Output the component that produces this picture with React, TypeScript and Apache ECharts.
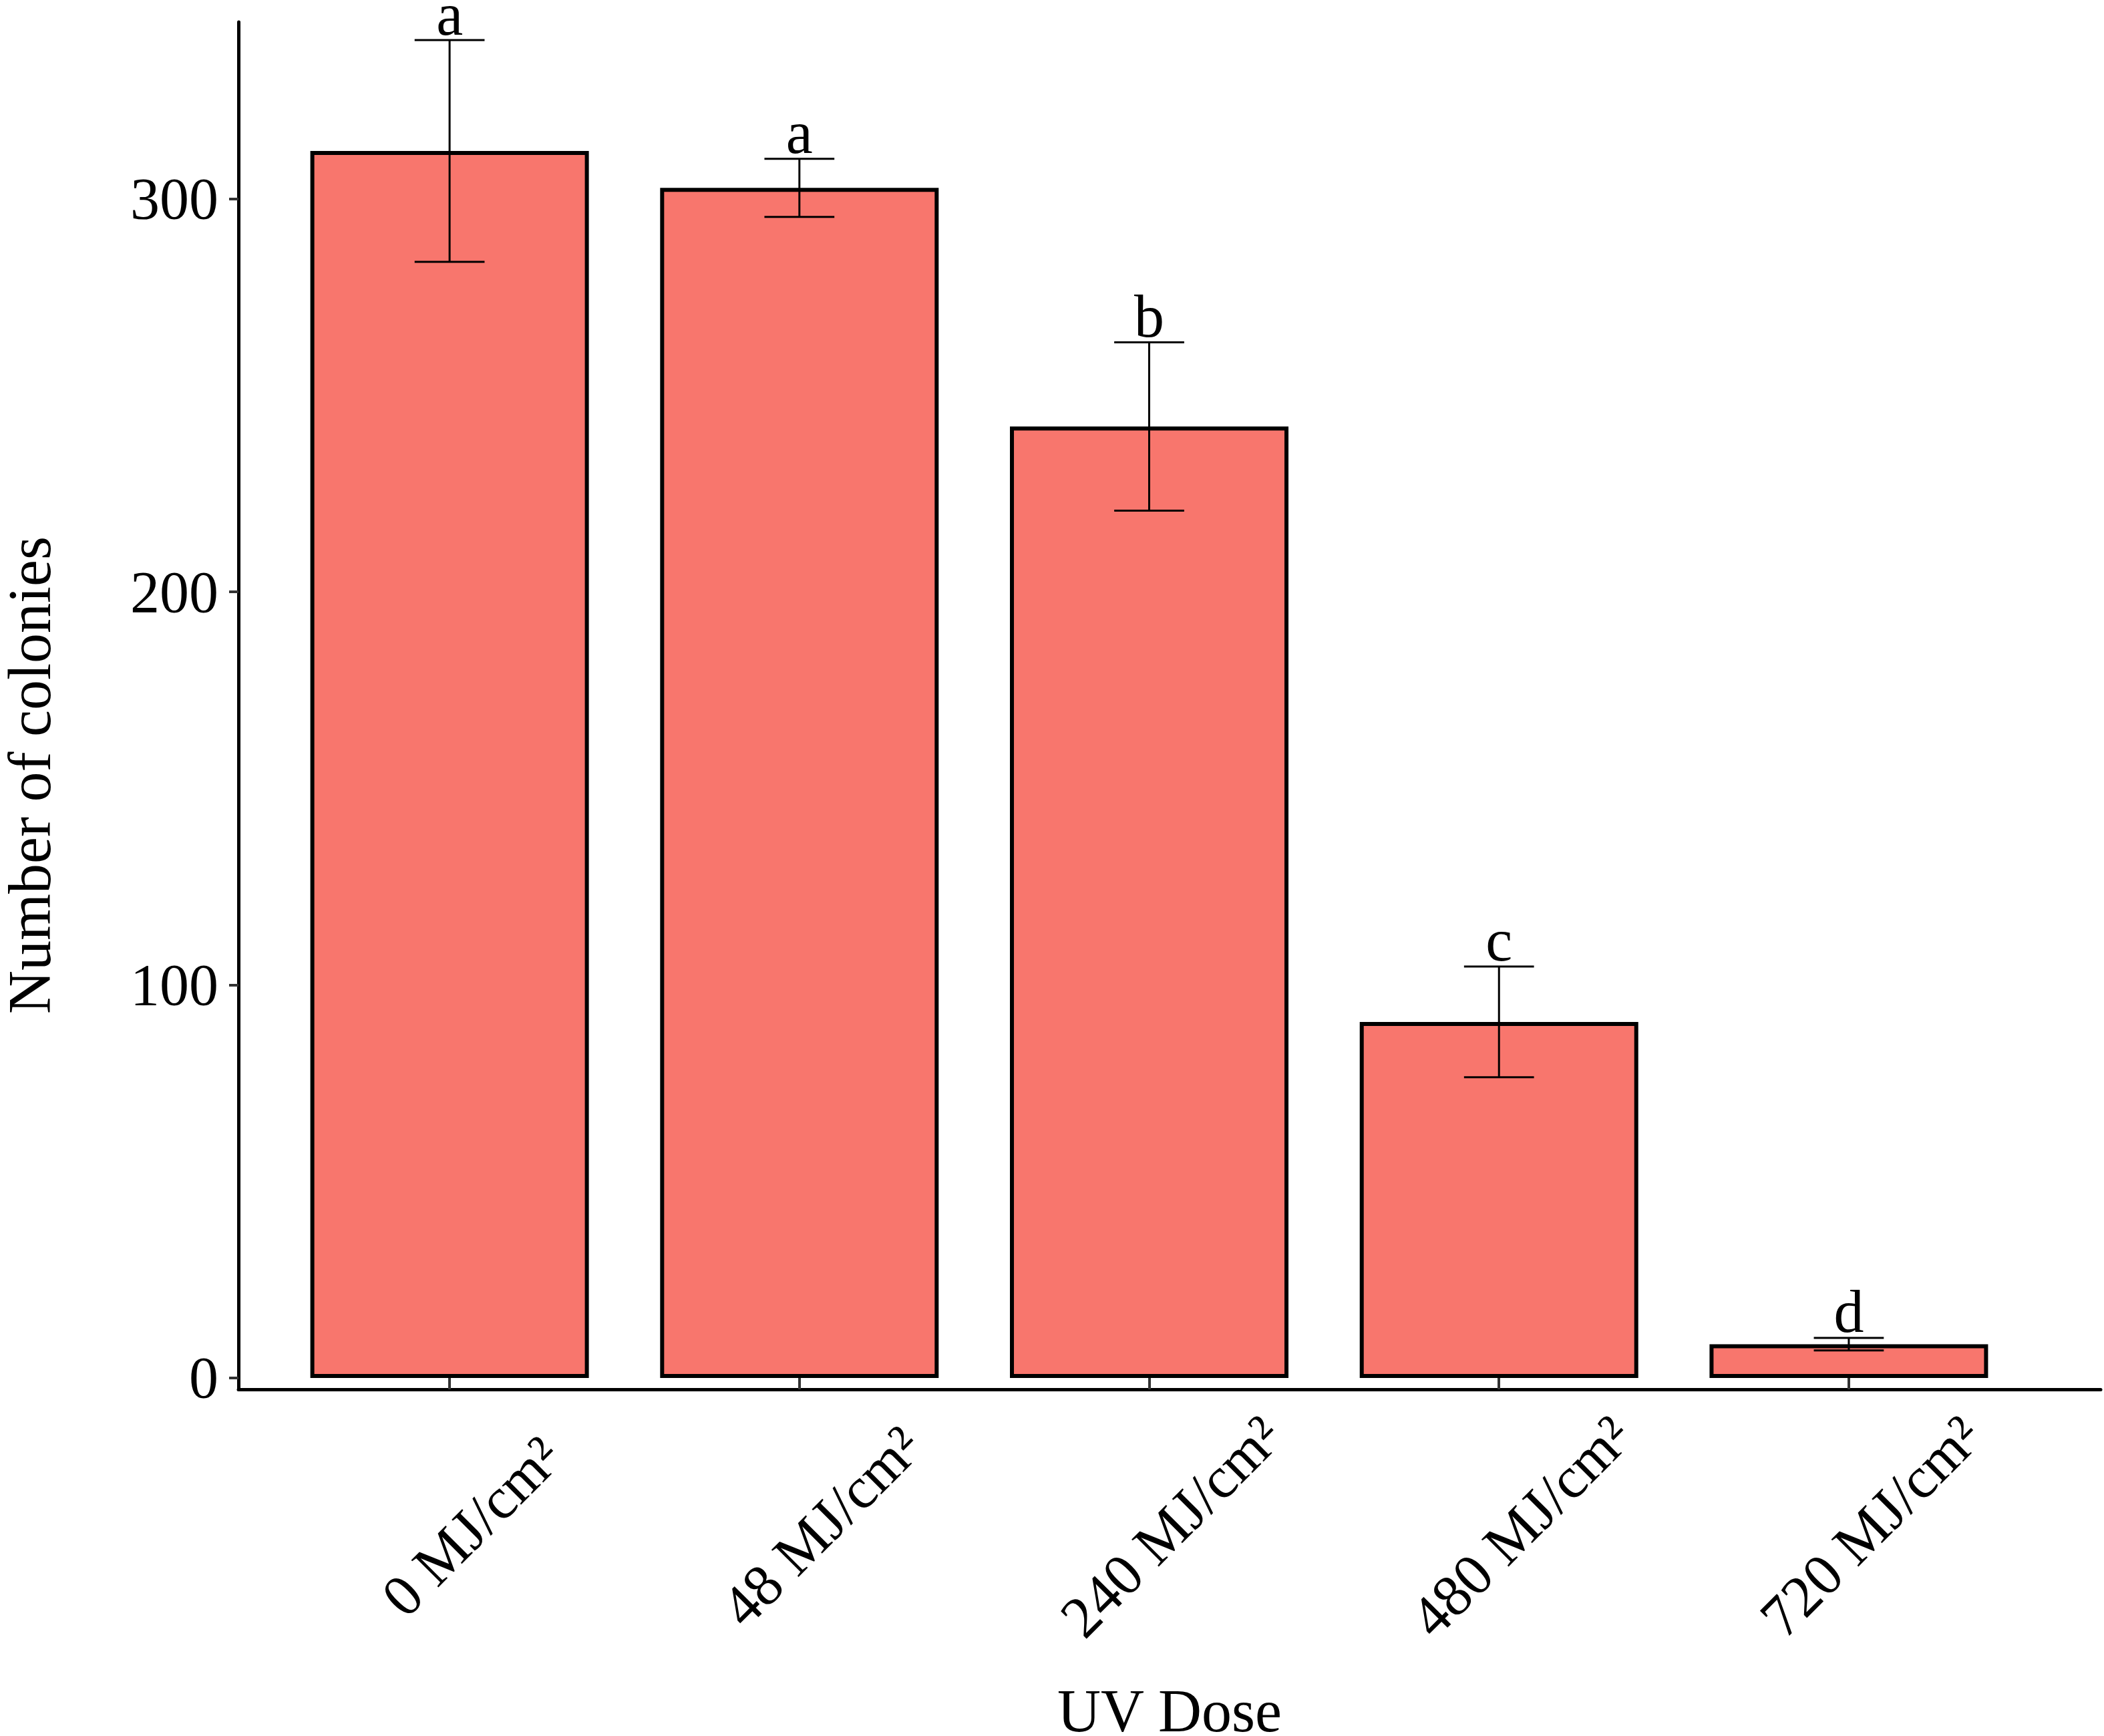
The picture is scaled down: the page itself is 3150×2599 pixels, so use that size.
import React, { useEffect, useRef } from "react";
import * as echarts from "echarts";

const categories = ["0 MJ/cm²", "48 MJ/cm²", "240 MJ/cm²", "480 MJ/cm²", "720 MJ/cm²"];
const means = [312.2, 302.8, 242.1, 90.6, 8.6];
const sds = [28.2, 7.4, 21.4, 14.1, 1.6];
const letters = ["a", "a", "b", "c", "d"];
const yTicks = [0, 100, 200, 300];
const xTicks = [0, 1, 2, 3, 4];

const FONT = "'Liberation Serif', 'Times New Roman', serif";

export default function App() {
  const ref = useRef<HTMLDivElement>(null);
  useEffect(() => {
    if (!ref.current) return;
    const chart = echarts.init(ref.current, null, { renderer: "svg" });
    const option: any = {
      animation: false,
      backgroundColor: "#ffffff",
      grid: {
        left: 357,
        right: 5,
        top: 33,
        bottom: 519,
        containLabel: false,
        outerBoundsMode: "none",
      },
      xAxis: {
        type: "value",
        min: -0.6036,
        max: 4.72,
        splitLine: { show: false },
        axisLine: { show: true, onZero: false, lineStyle: { color: "#000", width: 5 } },
        axisTick: {
          show: true,
          inside: true,
          length: 17,
          customValues: xTicks,
          lineStyle: { color: "#333", width: 4 },
        },
        axisLabel: {
          customValues: xTicks,
          formatter: (v: number) => categories[Math.round(v)] ?? "",
          rotate: 45,
          align: "center",
          verticalAlign: "middle",
          margin: 238,
          padding: [93, 0, 0, 93],
          fontSize: 88,
          fontFamily: FONT,
          color: "#000",
        },
        name: "UV Dose",
        nameLocation: "middle",
        nameGap: 446,
        nameTextStyle: { fontSize: 90, fontFamily: FONT, color: "#000", lineHeight: 70 },
      },
      yAxis: {
        type: "value",
        min: -2.89,
        max: 345,
        splitLine: { show: false },
        axisLine: { show: true, onZero: false, lineStyle: { color: "#000", width: 5 } },
        axisTick: {
          show: true,
          length: 14,
          customValues: yTicks,
          lineStyle: { color: "#333", width: 4 },
        },
        axisLabel: {
          customValues: yTicks,
          margin: 30,
          fontSize: 88,
          fontFamily: FONT,
          color: "#000",
        },
        name: "Number of colonies",
        nameLocation: "middle",
        nameGap: 278,
        nameTextStyle: {
          fontSize: 90,
          fontFamily: FONT,
          color: "#000",
          lineHeight: 70,
          padding: [0, 208, 0, 0],
        },
      },
      series: [
        {
          type: "bar",
          data: means.map((m, i) => [i, m]),
          barWidth: 417,
          itemStyle: { color: "#F8766D", borderColor: "#000", borderWidth: 6 },
          z: 2,
        },
        {
          type: "custom",
          z: 5,
          data: means.map((m, i) => [i, m, sds[i]]),
          renderItem: (params: any, api: any) => {
            const x = api.value(0);
            const m = api.value(1);
            const s = api.value(2);
            const top = api.coord([x, m + s]);
            const bot = api.coord([x, m - s]);
            const half = api.size([0.1, 0])[0];
            const ls = { stroke: "#000", lineWidth: 3 };
            return {
              type: "group",
              children: [
                { type: "line", shape: { x1: top[0], y1: top[1], x2: bot[0], y2: bot[1] }, style: ls },
                { type: "line", shape: { x1: top[0] - half, y1: top[1], x2: top[0] + half, y2: top[1] }, style: ls },
                { type: "line", shape: { x1: bot[0] - half, y1: bot[1], x2: bot[0] + half, y2: bot[1] }, style: ls },
                {
                  type: "text",
                  x: top[0],
                  y: top[1] - 39,
                  style: {
                    text: letters[params.dataIndex],
                    fontSize: 90,
                    fontFamily: FONT,
                    fill: "#000",
                    align: "center",
                    verticalAlign: "middle",
                    lineHeight: 40,
                  },
                },
              ],
            };
          },
        },
      ],
    };
    chart.setOption(option);
    return () => chart.dispose();
  }, []);
  return (
    <div
      ref={ref}
      style={{ position: "absolute", left: 0, top: 0, width: 3150, height: 2599, background: "#fff" }}
    />
  );
}
